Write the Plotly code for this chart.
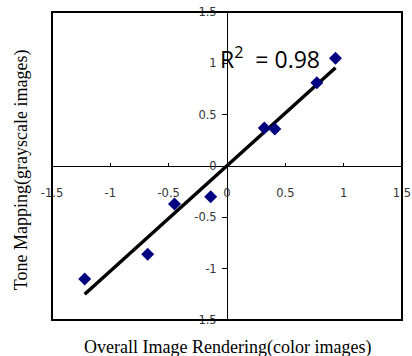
import numpy as np
import plotly.graph_objects as go

# Data
color_scores = [-1.22, -0.68, -0.45, -0.14, 0.32, 0.41, 0.77, 0.93]
gray_scores = [-1.10, -0.86, -0.37, -0.30, 0.37, 0.36, 0.81, 1.05]
tick_vals = [-1.5, -1, -0.5, 0, 0.5, 1, 1.5]
tick_text = ["-1.5", "-1", "-0.5", "0", "0.5", "1", "1.5"]
r2_label = "R<sup>2</sup>  = 0.98"
x_title = "Overall Image Rendering(color images)"
y_title = "Tone Mapping(grayscale images)"

# linear trend line (least squares) over data extent
slope, intercept = np.polyfit(color_scores, gray_scores, 1)
trend_x = [min(color_scores), max(color_scores)]
trend_y = [slope * v + intercept for v in trend_x]

fig = go.Figure()
fig.add_trace(go.Scatter(x=trend_x, y=trend_y, mode="lines",
                         line=dict(color="black", width=3.5), hoverinfo="skip"))
fig.add_trace(go.Scatter(x=color_scores, y=gray_scores, mode="markers",
                         marker=dict(symbol="diamond", size=10, color="#000080")))

tick_font = dict(family="DejaVu Sans", size=11.5, color="#333")
fig.update_layout(
    width=412, height=356,
    margin=dict(l=52, r=10, t=12, b=36),
    paper_bgcolor="white", plot_bgcolor="white",
    showlegend=False,
    xaxis=dict(range=[-1.5, 1.5], anchor="free", position=0.5, automargin=False,
               showline=True, linecolor="black", linewidth=1,
               showgrid=False, zeroline=False,
               ticks="inside", ticklen=3, tickcolor="black",
               tickvals=tick_vals, ticktext=tick_text,
               tickfont=tick_font, ticklabelstandoff=16),
    yaxis=dict(range=[-1.5, 1.5], anchor="free", position=0.5, automargin=False,
               showline=True, linecolor="black", linewidth=1,
               showgrid=False, zeroline=False,
               ticks="outside", ticklen=5, tickcolor="black",
               tickvals=tick_vals, ticktext=tick_text,
               tickfont=tick_font, ticklabelstandoff=3),
    shapes=[dict(type="rect", xref="paper", yref="paper", x0=0, y0=0, x1=1, y1=1,
                 line=dict(color="black", width=2), layer="above")],
    annotations=[
        dict(text=r2_label, xref="x", yref="y", x=-0.075, y=1.05,
             xanchor="left", yanchor="middle", showarrow=False,
             font=dict(family="Open Sans", size=23, color="black")),
        dict(text=x_title, xref="paper", yref="paper", x=0.5, y=-0.09,
             xanchor="center", yanchor="middle", showarrow=False,
             font=dict(family="Liberation Serif", size=18, color="black")),
        dict(text=y_title, xref="paper", yref="paper", x=-0.088, y=0.487,
             xanchor="center", yanchor="middle", showarrow=False, textangle=-90,
             font=dict(family="Liberation Serif", size=18, color="black")),
    ],
)

fig.write_html("out.html", config={"displayModeBar": False},
               post_script="document.body.style.margin='0';")
